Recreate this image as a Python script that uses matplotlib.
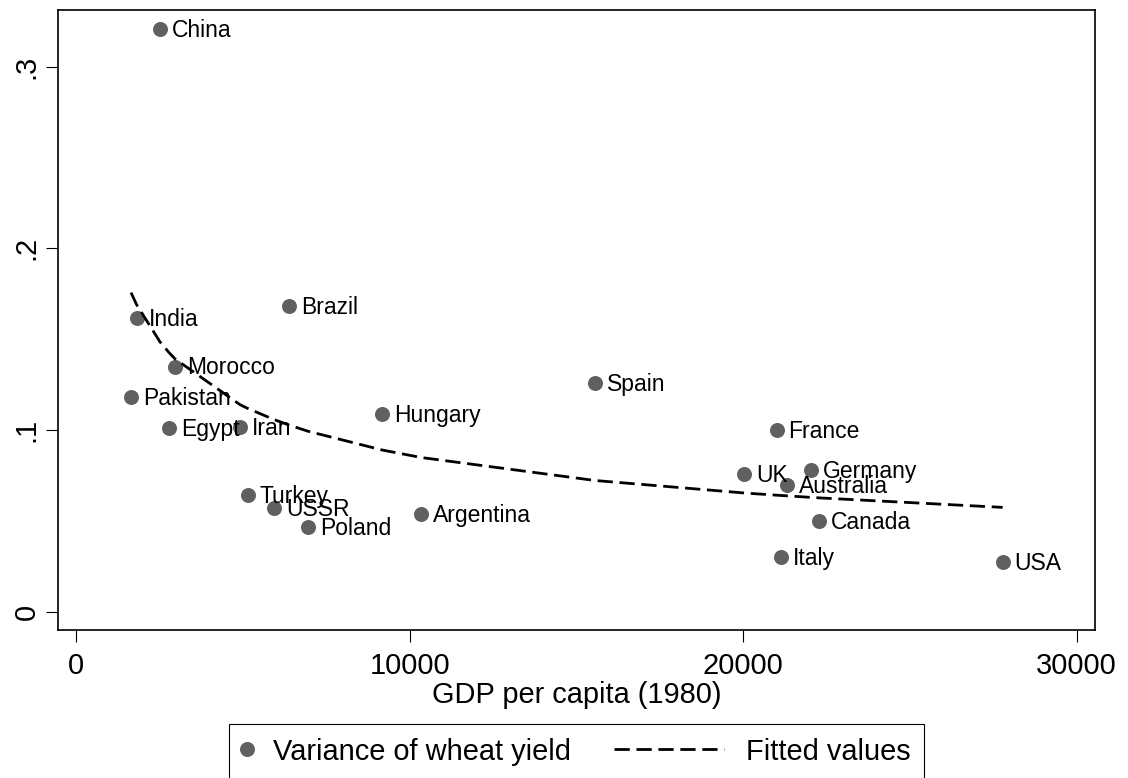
import numpy as np
import matplotlib.pyplot as plt
from matplotlib.legend_handler import HandlerLine2D

plt.rcParams["font.family"] = ["Liberation Sans", "DejaVu Sans"]

countries = ["China", "India", "Brazil", "Morocco", "Pakistan", "Egypt", "Iran",
             "Hungary", "Spain", "France", "UK", "Germany", "Australia", "Canada",
             "Italy", "USA", "Turkey", "USSR", "Poland", "Argentina"]
gdp = [2518, 1820, 6386, 2968, 1649, 2788, 4917, 9183, 15559, 21006,
       20035, 22025, 21324, 22283, 21135, 27781, 5147, 5945, 6964, 10343]
variance = [0.3207, 0.1615, 0.1683, 0.1349, 0.1183, 0.1010, 0.1018, 0.1088, 0.1260, 0.1000,
            0.0758, 0.0780, 0.0697, 0.0501, 0.0299, 0.0272, 0.0642, 0.0572, 0.0465, 0.0536]

xticks = [0, 10000, 20000, 30000]
yticks = [0, 0.1, 0.2, 0.3]
ytick_labels = ["0", ".1", ".2", ".3"]


class LongDash(HandlerLine2D):
    # draw the dashed key longer than the handle box, extending to the left
    def get_xdata(self, legend, xdescent, ydescent, width, height, fontsize):
        x = np.array([width - 3.8 * fontsize, width]) - xdescent
        return x, x


# fitted values: y = a * x^b by nonlinear least squares (scan over b)
x = np.array(gdp, dtype=float)
y = np.array(variance)
best = None
for b in np.linspace(-2, 0, 4001):
    xb = x ** b
    a = np.sum(y * xb) / np.sum(xb * xb)
    sse = np.sum((y - a * xb) ** 2)
    if best is None or sse < best[0]:
        best = (sse, a, b)
_, a, b = best
xs = np.sort(x)
fitted = a * xs ** b

fig = plt.figure(figsize=(11.28, 7.78), dpi=100)
ax = fig.add_axes([58 / 1128, 1 - 630 / 778, 1037 / 1128, 620 / 778])

dots, = ax.plot(x, y, "o", color="#606060", markersize=10.8, markeredgewidth=0,
                label="Variance of wheat yield")
for name, xi, yi in zip(countries, x, y):
    ax.annotate(name, (xi, yi), xytext=(8.5, -1), textcoords="offset points",
                va="center", ha="left", fontsize=16.5, color="black")

fit_line, = ax.plot(xs, fitted, color="black", lw=2.0, dashes=(5.5, 2.4),
                    label="Fitted values")

ax.set_xlim(-540, 30549)
ax.set_ylim(-0.0101, 0.3312)
ax.set_xticks(xticks)
ax.set_xticklabels([str(t) for t in xticks])
ax.set_yticks(yticks)
ax.set_yticklabels(ytick_labels, rotation=90, va="center")
ax.tick_params(axis="both", labelsize=20.9, length=8.6, width=0.8, direction="out")
ax.tick_params(axis="x", pad=7)
ax.tick_params(axis="y", pad=4)
for s in ax.spines.values():
    s.set_linewidth(1.2)
ax.set_xlabel("GDP per capita (1980)", fontsize=20.9, labelpad=1)

leg = fig.legend(handles=[dots, fit_line], loc="upper center",
                 bbox_to_anchor=(576.5 / 1128, 1 - 724 / 778), borderaxespad=0,
                 ncol=2, fontsize=20.9, handlelength=0.3, handletextpad=0.74,
                 columnspacing=5.0, borderpad=0.47, fancybox=False,
                 edgecolor="black", framealpha=1, numpoints=1,
                 handler_map={fit_line: LongDash()})
leg.get_frame().set_linewidth(0.8)

fig.savefig("out.png", dpi=100)
